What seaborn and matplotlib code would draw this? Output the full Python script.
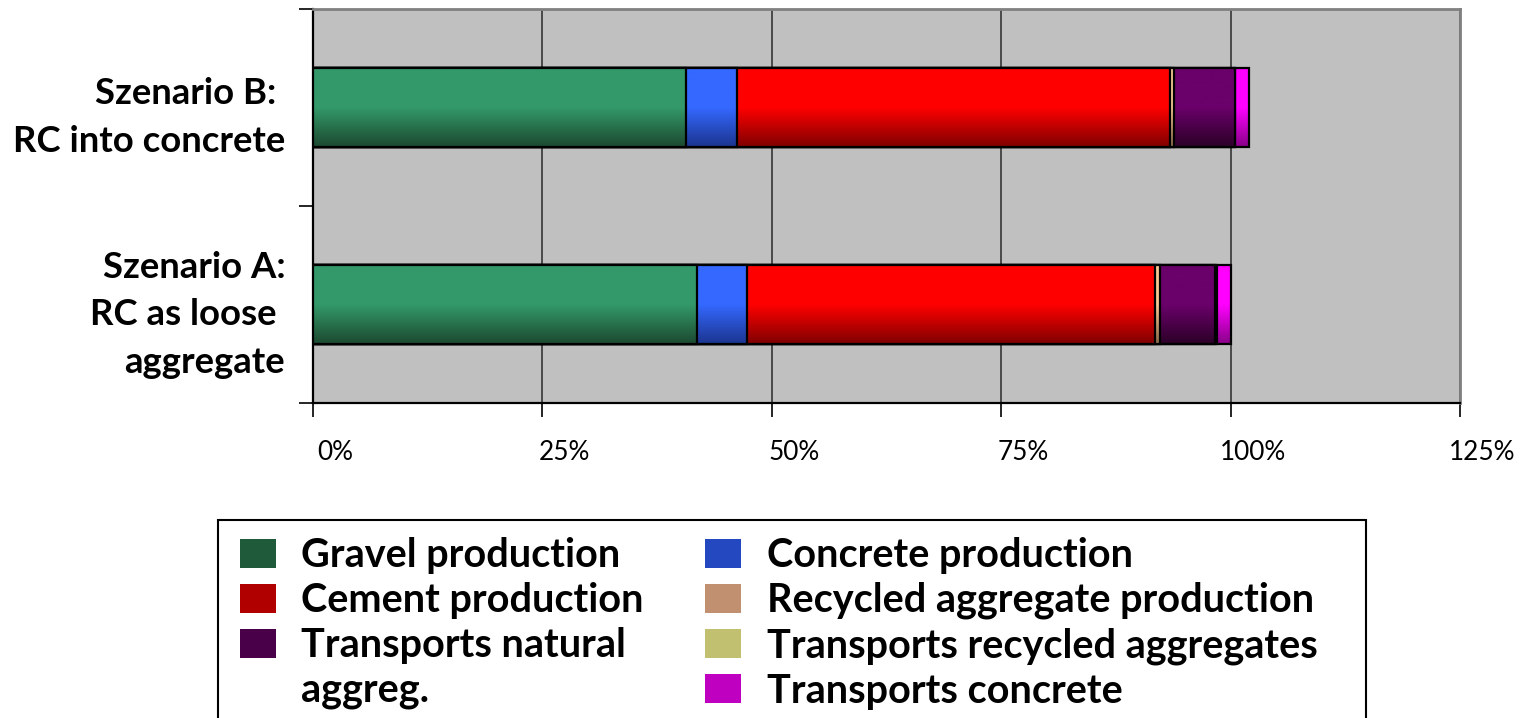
import numpy as np
import pandas as pd
import matplotlib
matplotlib.use("Agg")
import matplotlib.pyplot as plt
import matplotlib.transforms as mtransforms
from matplotlib.colors import LinearSegmentedColormap
from matplotlib.patches import Patch, Rectangle
import seaborn as sns

# ── Data (percent of Szenario A total) ───────────────────────
scenarios = ["Szenario B: \nRC into concrete", "Szenario A:\nRC as loose \naggregate"]
segments = ["Gravel production", "Concrete production", "Cement production",
            "Recycled aggregate production", "Transports natural aggreg.",
            "Transports recycled aggregates", "Transports concrete"]
gravel = [40.7, 41.8]
concrete = [5.5, 5.5]
cement = [47.2, 44.5]
recycled = [0.4, 0.5]
trans_nat = [6.7, 6.0]
trans_rec = [0.0, 0.2]
trans_conc = [1.5, 1.5]
xticks = [0, 25, 50, 75, 100, 125]

# top / bottom colour of the vertical gradient for each segment
grad = [("#33996a", "#1c4a30"), ("#3468ff", "#1c3590"), ("#ff0000", "#800000"),
        ("#f8c894", "#8a6a4a"), ("#6a006a", "#2c0028"), ("#f2f292", "#7a7a40"),
        ("#ff00ff", "#8a008a")]
swatch = ["#1f5a3a", "#2448c0", "#b00000", "#c09070", "#4a0048", "#c0c070", "#c000c0"]

plt.rcParams["font.family"] = ["Lato", "DejaVu Sans"]

fig = plt.figure(figsize=(15.22, 7.18), dpi=100)
ax = fig.add_axes([313 / 1522, 315 / 718, 1147 / 1522, 394 / 718])

# ── Stacked bars: draw cumulative totals, longest first ──────
series = [gravel, concrete, cement, recycled, trans_nat, trans_rec, trans_conc]
cum = np.cumsum(np.array(series), axis=0)
order = list(range(len(series)))[::-1]
for i in order:
    sns.barplot(x=cum[i], y=scenarios, orient="h", color=grad[i][0], saturation=1,
                width=0.4, edgecolor="black", linewidth=1.6, ax=ax)

# replace flat fill by a vertical gradient clipped to each bar
z = 3
for k, patch in enumerate(ax.patches):
    seg = order[k // len(scenarios)]
    x0, y0 = patch.get_x(), patch.get_y()
    w, h = patch.get_width(), patch.get_height()
    cmap = LinearSegmentedColormap.from_list("g", [grad[seg][0], grad[seg][0], grad[seg][1]])
    img = ax.imshow(np.linspace(0, 1, 64).reshape(-1, 1), cmap=cmap, aspect="auto",
                    extent=(x0, x0 + w, y0 + h, y0), origin="upper",
                    interpolation="bilinear", zorder=z)
    img.set_clip_path(patch)
    patch.set_facecolor("none")
    patch.set_zorder(z + 0.5)
    z += 1

ax.set_xlim(0, 125)
ax.set_ylim(1.5, -0.5)
ax.set_facecolor("#c0c0c0")
ax.set_xlabel("")
ax.set_ylabel("")

ax.set_xticks(xticks)
ax.set_xticklabels([f"{t}%" for t in xticks])
ax.xaxis.grid(True, color="#404040", lw=1.3)
ax.set_axisbelow(True)
ax.tick_params(axis="x", length=10, width=1.2, direction="out", pad=17,
               labelsize=18.8, labelcolor="black")
shift = mtransforms.ScaledTranslation(22 / 100, 0, fig.dpi_scale_trans)
for lab in ax.get_xticklabels():
    lab.set_transform(lab.get_transform() + shift)

ax.set_yticks([-0.5, 0.5, 1.5], minor=True)
ax.tick_params(axis="y", which="minor", length=10, width=1.2, direction="out")
ax.tick_params(axis="y", which="major", length=0, pad=20, labelsize=26.3)
for lab in ax.get_yticklabels():
    lab.set_fontweight("bold")
    lab.set_linespacing(1.55)
    lab.set_multialignment("right")

for s in ["left", "bottom"]:
    ax.spines[s].set_color("black")
    ax.spines[s].set_linewidth(1.6)
for s in ["top", "right"]:
    ax.spines[s].set_color("#808080")
    ax.spines[s].set_linewidth(2)

# ── Legend (frame drawn separately, runs off the bottom) ─────
fig.patches.append(Rectangle((218 / 1522, -0.1), 1148 / 1522, 198 / 718 + 0.1,
                             transform=fig.transFigure, facecolor="white",
                             edgecolor="black", lw=1.5, zorder=1))
h = [Patch(facecolor=c, edgecolor="none") for c in swatch]
blank = Patch(facecolor="none", edgecolor="none")
handles = [h[0], h[2], h[4], blank, h[1], h[3], h[5], h[6]]
labels = ["Gravel production", "Cement production", "Transports natural", "aggreg.",
          "Concrete production", "Recycled aggregate production",
          "Transports recycled aggregates", "Transports concrete"]
fig.legend(handles, labels, ncol=2, loc="upper left",
           bbox_to_anchor=(240 / 1522, 1 - 537 / 718), frameon=False,
           prop={"weight": "bold", "size": 28.5}, borderpad=0, borderaxespad=0,
           handlelength=0.9, handleheight=0.75, handletextpad=0.65,
           columnspacing=1.55, labelspacing=0.2)

fig.savefig("out.png", dpi=100)
